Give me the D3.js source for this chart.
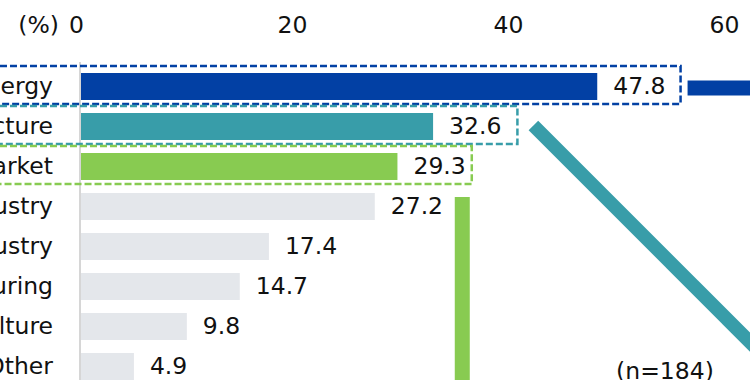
<!DOCTYPE html>
<html>
<head>
<meta charset="utf-8">
<script src="https://cdn.jsdelivr.net/npm/d3@7"></script>
<style>
body { margin: 0; background: #fff; }
svg { display: block; font-family: "DejaVu Sans", Verdana, sans-serif; }
</style>
</head>
<body>
<div id="chart"></div>
<script>
// DATA
var categories = ["Energy", "Infrastructure", "Domestic market", "Service industry", "IT industry", "Manufacturing", "Agriculture", "Other"];
var values = [47.8, 32.6, 29.3, 27.2, 17.4, 14.7, 9.8, 4.9];
var tickValues = [0, 20, 40, 60];
var unitLabel = "(%)";
var sampleLabel = "(n=184)";

// DEFINE VARIABLES
var w = 750;
var h = 380;
var fontSize = 23.5;
var highlight = ["#0240a4", "#389da9", "#88cb51"];
var barGray = "#e4e7eb";
var boxPad = [15, 16, 6]; // space between value label and dashed box edge

var svg = d3
    .select("#chart")
    .append("svg")
    .attr("width", w)
    .attr("height", h);

// scales
var x = d3
    .scaleLinear()
    .domain([0, 60])
    .range([81, 729]);

var y = d3
    .scaleBand()
    .domain(categories)
    .range([66.5, 386.5])
    .paddingInner(0.325)
    .paddingOuter(0.1625);

// top axis, labels only
var axis = svg
    .append("g")
    .attr("transform", "translate(-5,33)")
    .call(d3.axisTop(x).tickValues(tickValues).tickSize(0).tickPadding(0));
axis.select(".domain").remove();
axis.selectAll("text")
    .attr("font-family", "DejaVu Sans, Verdana, sans-serif")
    .attr("font-size", fontSize)
    .attr("fill", "#111")
    .attr("dy", 0);

svg.append("text")
    .attr("x", 59)
    .attr("y", 33)
    .attr("text-anchor", "end")
    .attr("font-size", fontSize)
    .attr("fill", "#111")
    .text(unitLabel);

// vertical baseline
svg.append("rect")
    .attr("x", 79)
    .attr("y", 62)
    .attr("width", 2)
    .attr("height", h - 62)
    .attr("fill", "#d6d6d6");

// bars
svg.selectAll(".bar")
    .data(values)
    .enter()
    .append("rect")
    .attr("class", "bar")
    .attr("x", x(0))
    .attr("y", (d, i) => y(categories[i]))
    .attr("width", d => x(d) - x(0))
    .attr("height", y.bandwidth())
    .attr("fill", (d, i) => i < 3 ? highlight[i] : barGray);

// category labels (cut off at the left edge)
svg.selectAll(".cat")
    .data(categories)
    .enter()
    .append("text")
    .attr("class", "cat")
    .attr("x", 53)
    .attr("y", d => y(d) + y.bandwidth() / 2)
    .attr("dy", "0.3em")
    .attr("text-anchor", "end")
    .attr("font-size", fontSize)
    .attr("fill", "#111")
    .text(d => d);

// value labels
var valueText = svg.selectAll(".val")
    .data(values)
    .enter()
    .append("text")
    .attr("class", "val")
    .attr("x", d => x(d) + 16)
    .attr("y", (d, i) => y(categories[i]) + y.bandwidth() / 2)
    .attr("dy", "0.3em")
    .attr("font-size", fontSize)
    .attr("fill", "#111")
    .text(d => d.toFixed(1));

// dashed boxes round the three highlighted rows, plus their connectors
valueText.each(function (d, i) {
    if (i > 2) return;
    var right = x(d) + 16 + this.getComputedTextLength() + boxPad[i];
    var top = y(categories[i]) - 7;
    var bottom = y(categories[i]) + y.bandwidth() + 4;
    var mid = y(categories[i]) + y.bandwidth() / 2;

    if (i === 0) {
        svg.append("rect")
            .attr("x", right + 7)
            .attr("y", mid - 6)
            .attr("width", w - right)
            .attr("height", 15)
            .attr("fill", highlight[i]);
    } else if (i === 1) {
        svg.append("line")
            .attr("x1", right + 16)
            .attr("y1", mid - 1)
            .attr("x2", right + 316)
            .attr("y2", mid + 299)
            .attr("stroke", highlight[i])
            .attr("stroke-width", 13.5);
    } else {
        svg.append("rect")
            .attr("x", right - 17)
            .attr("y", bottom + 13)
            .attr("width", 15)
            .attr("height", h)
            .attr("fill", highlight[i]);
    }

    svg.append("rect")
        .attr("x", -10)
        .attr("y", top)
        .attr("width", right + 10)
        .attr("height", bottom - top)
        .attr("fill", "none")
        .attr("stroke", highlight[i])
        .attr("stroke-width", 2.5)
        .attr("stroke-dasharray", "7,3");
});

svg.append("text")
    .attr("x", 665)
    .attr("y", 379)
    .attr("text-anchor", "middle")
    .attr("font-size", fontSize)
    .attr("fill", "#111")
    .text(sampleLabel);
</script>
</body>
</html>
